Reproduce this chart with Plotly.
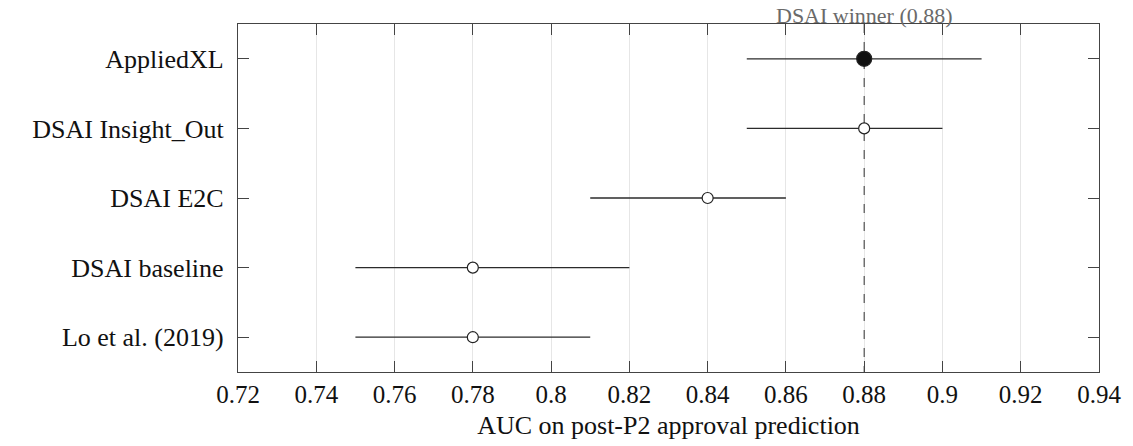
import plotly.graph_objects as go

models = ["AppliedXL", "DSAI Insight_Out", "DSAI E2C", "DSAI baseline", "Lo et al. (2019)"]
auc = [0.88, 0.88, 0.84, 0.78, 0.78]
ci_low = [0.85, 0.85, 0.81, 0.75, 0.75]
ci_high = [0.91, 0.90, 0.86, 0.82, 0.81]
winner_auc = 0.88
x_ticks = [0.72, 0.74, 0.76, 0.78, 0.80, 0.82, 0.84, 0.86, 0.88, 0.90, 0.92, 0.94]

FONT = "Liberation Serif"
DARK = "#2b2b2b"
ypos = list(range(len(models)))

fig = go.Figure()

# vertical dashed reference line at the DSAI winner
fig.add_trace(go.Scatter(
    x=[winner_auc, winner_auc], y=[-0.5, len(models) - 0.5],
    mode="lines", line=dict(color="#444444", width=1.1, dash="dash"),
    hoverinfo="skip", showlegend=False, cliponaxis=False))

# intervals
for i in ypos:
    fig.add_trace(go.Scatter(
        x=[ci_low[i], ci_high[i]], y=[i, i], mode="lines",
        line=dict(color=DARK, width=1.3), showlegend=False, hoverinfo="skip"))

# markers
fill = ["#111111"] + ["white"] * (len(models) - 1)
sizes = [15] + [11] * (len(models) - 1)
fig.add_trace(go.Scatter(
    x=auc, y=ypos, mode="markers", opacity=1,
    marker=dict(color=fill, size=sizes, opacity=1, line=dict(color="#222222", width=1.2)),
    showlegend=False))

fig.add_annotation(
    x=winner_auc, y=1, xref="x", yref="paper", yanchor="bottom",
    text="DSAI winner (0.88)", showarrow=False,
    font=dict(family=FONT, size=22, color="#6a6a6a"), yshift=-6)

fig.update_layout(
    width=1133, height=446,
    margin=dict(l=238, r=31, t=24, b=73),
    paper_bgcolor="white", plot_bgcolor="white",
    font=dict(family=FONT, size=26, color="#111111"),
)
fig.update_xaxes(
    range=[x_ticks[0], x_ticks[-1]],
    tickvals=x_ticks, ticktext=[f"{v:g}" for v in x_ticks],
    showgrid=True, gridcolor="#e6e6e6", gridwidth=1,
    showline=True, linecolor="#444444", linewidth=1.3, mirror="allticks",
    ticks="inside", ticklen=11, tickcolor="#444444", tickwidth=1.2,
    zeroline=False,
    title=dict(text="AUC on post-P2 approval prediction", standoff=8,
               font=dict(family=FONT, size=26)),
    tickfont=dict(family=FONT, size=25),
)
fig.update_yaxes(
    range=[len(models) - 0.5, -0.5],
    tickvals=ypos, ticktext=models,
    showgrid=False, zeroline=False,
    showline=True, linecolor="#444444", linewidth=1.3, mirror="allticks",
    ticks="inside", ticklen=11, tickcolor="#444444", tickwidth=1.2,
    tickfont=dict(family=FONT, size=26), ticklabelstandoff=8,
)

fig.write_html("out.html", config={"displayModeBar": False},
               post_script="document.body.style.margin='0';")
